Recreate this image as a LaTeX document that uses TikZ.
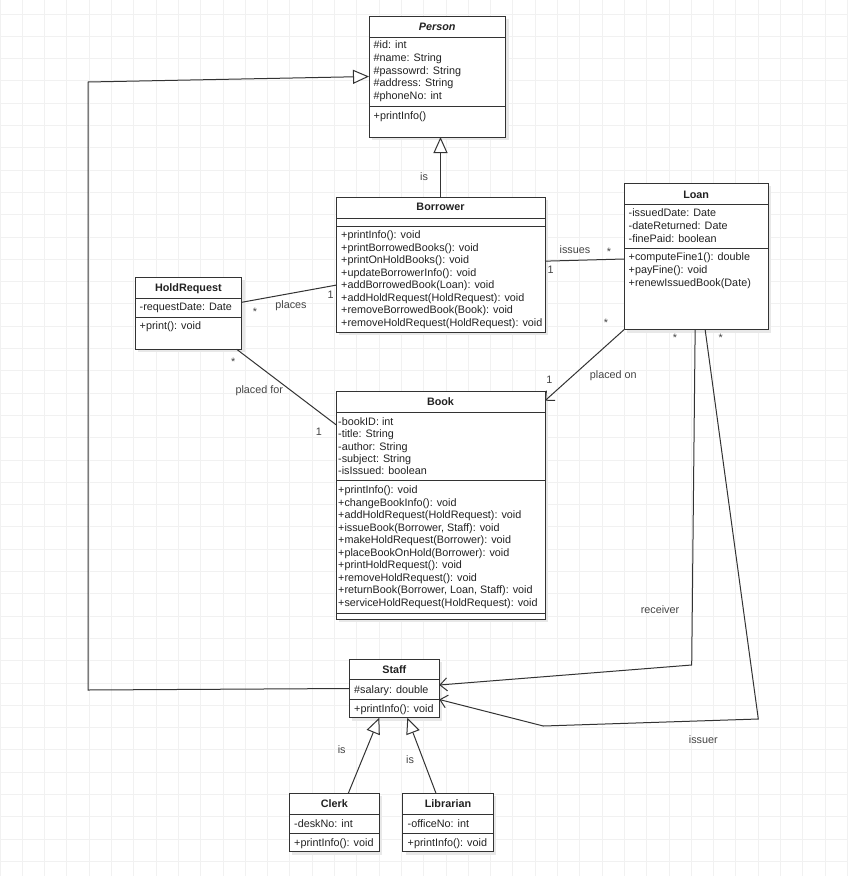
\documentclass[tikz,border=0pt]{standalone}
\usepackage{fontspec}
\setmainfont{Liberation Sans}
\usetikzlibrary{arrows.meta,shadows}
\definecolor{ink}{HTML}{333333}
\definecolor{txt}{HTML}{222222}
\definecolor{lblc}{HTML}{444444}
\definecolor{gridc}{HTML}{F1F1F1}
\tikzset{
  cls/.style={draw=ink, line width=1pt, fill=white, inner sep=0pt, outer sep=0pt, anchor=north west,
    drop shadow={shadow xshift=3pt, shadow yshift=-3pt, fill=black!9, opacity=1}},
  sepline/.style={draw=ink, line width=1pt},
  mem/.style={anchor=west, inner sep=0pt, text height=7.7pt, text depth=0pt, font=\fontsize{10.8}{12}\selectfont, text=txt},
  ttl/.style={inner sep=0pt, text height=7.7pt, text depth=0pt, font=\fontsize{10.8}{12}\selectfont\bfseries, text=txt},
  lbl/.style={inner sep=0pt, text height=7.7pt, text depth=0pt, font=\fontsize{10.8}{12}\selectfont, text=lblc},
  conn/.style={draw=ink, line width=1pt},
  gen/.style={conn, -{Triangle[open, length=16pt, width=14pt, fill=white]}},
  nav/.style={conn, -{Straight Barb[length=7pt, width=13pt]}},
  gridline/.style={draw=gridc, line width=1pt},
}
\begin{document}
\begin{tikzpicture}[x=1pt, y=-1pt]
\useasboundingbox (0,0) rectangle (848,876);
\fill[white] (0,0) rectangle (848,876);
\begin{scope}
\clip (0,0) rectangle (848,876);
\foreach \i in {0,...,38} {
  \draw[gridline] ({22.3*\i},0) -- ({22.3*\i},876);
  \draw[gridline] (0,{14+22.3*\i}) -- (848,{14+22.3*\i});
}
\end{scope}

% ---------------- Person
\node[cls, minimum width=136.5pt, minimum height=121pt] (Person) at (369,16) {};
\draw[sepline] (369,37) -- (505.5,37);
\draw[sepline] (369,106.7) -- (505.5,106.7);
\node[ttl] (PersonT) at (437.25,26.5) {\textit{Person}};
\foreach \t [count=\i] in {\#id: int, \#name: String, \#passowrd: String, \#address: String, \#phoneNo: int}
  \node[mem] (pa\i) at (373.5,{45+12.7*(\i-1)}) {\t};
\node[mem] (pm1) at (373.5,116) {+printInfo()};

% ---------------- Borrower
\node[cls, minimum width=209pt, minimum height=135.3pt] (Borrower) at (336,197) {};
\draw[sepline] (336,218.3) -- (545,218.3);
\draw[sepline] (336,226.7) -- (545,226.7);
\node[ttl] (BorrowerT) at (440.5,207) {Borrower};
\foreach \t [count=\i] in {+printInfo(): void, +printBorrowedBooks(): void, +printOnHoldBooks(): void, +updateBorrowerInfo(): void, +addBorrowedBook(Loan): void, +addHoldRequest(HoldRequest): void, +removeBorrowedBook(Book): void, +removeHoldRequest(HoldRequest): void}
  \node[mem] (bm\i) at (341,{235+12.5*(\i-1)}) {\t};

% ---------------- Loan
\node[cls, minimum width=144.3pt, minimum height=146.4pt] (Loan) at (624,183.3) {};
\draw[sepline] (624,204.3) -- (768.3,204.3);
\draw[sepline] (624,248.3) -- (768.3,248.3);
\node[ttl] (LoanT) at (696.15,194.3) {Loan};
\foreach \t [count=\i] in {-issuedDate: Date, -dateReturned: Date, -finePaid: boolean}
  \node[mem] (la\i) at (628.5,{213+12.6*(\i-1)}) {\t};
\foreach \t [count=\i] in {+computeFine1(): double, +payFine(): void, +renewIssuedBook(Date)}
  \node[mem] (lm\i) at (628.5,{257+12.6*(\i-1)}) {\t};

% ---------------- HoldRequest
\node[cls, minimum width=106.7pt, minimum height=72pt] (HoldRequest) at (135,277.3) {};
\draw[sepline] (135,298.3) -- (241.7,298.3);
\draw[sepline] (135,317.3) -- (241.7,317.3);
\node[ttl] (HoldRequestT) at (188.35,287.3) {HoldRequest};
\node[mem] (ha1) at (139.5,306.7) {-requestDate: Date};
\node[mem] (hm1) at (139.5,326) {+print(): void};

% ---------------- Book
\node[cls, minimum width=209pt, minimum height=227.6pt] (Book) at (336,391.7) {};
\draw[sepline] (336,412.3) -- (545,412.3);
\draw[sepline] (336,480.7) -- (545,480.7);
\draw[sepline] (336,613.3) -- (545,613.3);
\node[ttl] (BookT) at (440.5,401.7) {Book};
\foreach \t [count=\i] in {-bookID: int, -title: String, -author: String, -subject: String, -isIssued: boolean}
  \node[mem] (ka\i) at (338,{421.7+12.25*(\i-1)}) {\t};
\foreach \t [count=\i] in {+printInfo(): void, +changeBookInfo(): void, +addHoldRequest(HoldRequest): void, {+issueBook(Borrower, Staff): void}, +makeHoldRequest(Borrower): void, +placeBookOnHold(Borrower): void, +printHoldRequest(): void, +removeHoldRequest(): void, {+returnBook(Borrower, Loan, Staff): void}, +serviceHoldRequest(HoldRequest): void}
  \node[mem] (km\i) at (338,{490+12.5*(\i-1)}) {\t};

% ---------------- Staff
\node[cls, minimum width=90pt, minimum height=58.4pt] (Staff) at (349.3,659.3) {};
\draw[sepline] (349.3,679.3) -- (439.3,679.3);
\draw[sepline] (349.3,699.3) -- (439.3,699.3);
\node[ttl] (StaffT) at (394.3,669.3) {Staff};
\node[mem] (sa1) at (354,689.3) {\#salary: double};
\node[mem] (sm1) at (354,708.3) {+printInfo(): void};

% ---------------- Clerk
\node[cls, minimum width=90pt, minimum height=58.4pt] (Clerk) at (289.3,793.3) {};
\draw[sepline] (289.3,814) -- (379.3,814);
\draw[sepline] (289.3,833.3) -- (379.3,833.3);
\node[ttl] (ClerkT) at (334.3,803.3) {Clerk};
\node[mem] (ca1) at (294,823.3) {-deskNo: int};
\node[mem] (cm1) at (294,842.7) {+printInfo(): void};

% ---------------- Librarian
\node[cls, minimum width=90.6pt, minimum height=58.4pt] (Librarian) at (402.7,793.3) {};
\draw[sepline] (402.7,814) -- (493.3,814);
\draw[sepline] (402.7,833.3) -- (493.3,833.3);
\node[ttl] (LibrarianT) at (448,803.3) {Librarian};
\node[mem] (ra1) at (407.5,823.3) {-officeNo: int};
\node[mem] (rm1) at (407.5,842.7) {+printInfo(): void};

% ---------------- connectors
\draw[gen] (Borrower.north) -- (Borrower.north |- Person.south);
\coordinate (sL) at (88,690);
\coordinate (sU) at (88,82);
\draw[gen] (Staff.west) -- (sL) -- (sU) -- (Person.west);
\draw[gen] ([xshift=14pt]Clerk.north) -- ([xshift=-15pt]Staff.south);
\draw[gen] ([xshift=-12pt]Librarian.north) -- ([xshift=13pt]Staff.south);

\draw[conn] ([yshift=3.5pt]Borrower.east) -- ([yshift=-2.5pt]Loan.west);
\draw[conn] ([yshift=11pt]HoldRequest.east) -- ([yshift=-20.5pt]Borrower.west);
\draw[conn] ([xshift=-5pt]HoldRequest.south east) -- ([yshift=-33pt]Book.north west);
\draw[nav] (Loan.south west) -- ([yshift=-9pt]Book.north east);
\coordinate (rb) at (691.7,665);
\draw[nav] ([xshift=-1pt]Loan.south) -- (rb) -- ([yshift=3.5pt]Staff.east);
\coordinate (ib1) at (758.3,719);
\coordinate (ib2) at (543.3,726);
\draw[nav] ([xshift=9pt]Loan.south) -- (ib1) -- (ib2) -- ([yshift=-11pt]Staff.east);

% ---------------- labels
\node[lbl] (l1) at (424,177) {is};
\node[lbl] (l2) at (575,250) {issues};
\node[lbl] (l3) at (609,251.5) {*};
\node[lbl] (l4) at (550.7,269.3) {1};
\node[lbl] (l5) at (291,304.3) {places};
\node[lbl] (l6) at (255,312) {*};
\node[lbl] (l7) at (330.7,295) {1};
\node[lbl] (l8) at (259.3,390) {placed for};
\node[lbl] (l9) at (233.3,361.5) {*};
\node[lbl] (l10) at (319,431.7) {1};
\node[lbl] (l11) at (613.3,375) {placed on};
\node[lbl] (l12) at (549.3,380) {1};
\node[lbl] (l13) at (606,323) {*};
\node[lbl] (l14) at (660,609.3) {receiver};
\node[lbl] (l15) at (675,338) {*};
\node[lbl] (l16) at (703.3,739.3) {issuer};
\node[lbl] (l17) at (720.7,338) {*};
\node[lbl] (l18) at (341.7,749.3) {is};
\node[lbl] (l19) at (410,759.3) {is};
\end{tikzpicture}
\end{document}
